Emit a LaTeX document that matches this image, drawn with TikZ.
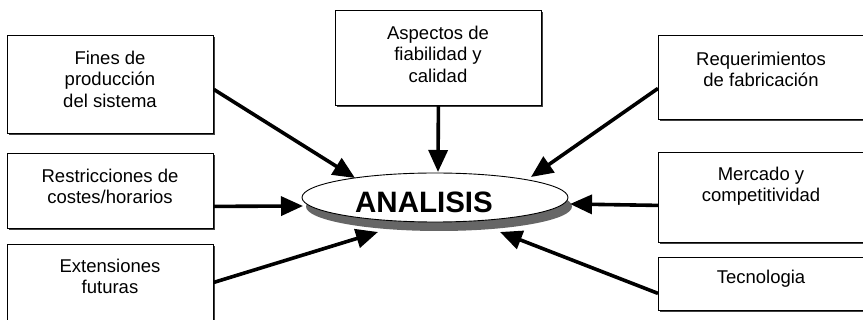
\documentclass[tikz,border=0pt]{standalone}
\usepackage{fontspec}
\setmainfont{Liberation Sans}
\usetikzlibrary{arrows.meta,shapes.geometric,shadows,calc}
\begin{document}
\begin{tikzpicture}[x=1pt,y=-1pt,
  boxnode/.style={draw, line width=0.8pt, fill=white, rectangle, inner sep=0pt,
    anchor=north west, minimum width=206pt,
    drop shadow={shadow xshift=1.4pt, shadow yshift=-1.6pt, fill=black!75, opacity=1}},
  txt/.style={font=\fontsize{18.5}{21.5}\selectfont, align=center, inner sep=0pt, anchor=north},
  arr/.style={line width=3.6pt, -{Triangle[length=22pt,width=19pt]}}]
\useasboundingbox (0,0) rectangle (863,320);

% boxes
\node[boxnode, minimum height=98pt] (L1) at (7,35) {};
\node[boxnode, minimum height=75pt] (L2) at (7,153) {};
\node[boxnode, minimum height=86pt] (L3) at (7,244) {};
\node[boxnode, minimum height=95pt] (C) at (335,10) {};
\node[boxnode, minimum height=84pt] (R1) at (658,35) {};
\node[boxnode, minimum height=90pt] (R2) at (658,152) {};
\node[boxnode, minimum height=53pt] (R3) at (658,257) {};

% texts
\node[txt] (L1t) at (110,50.5) {Fines de\\producción\\del sistema};
\node[txt] (L2t) at (110,168.5) {Restricciones de\\costes/horarios};
\node[txt] (L3t) at (110,258.5) {Extensiones\\futuras};
\node[txt] (Ct) at (438,25.5) {Aspectos de\\fiabilidad y\\calidad};
\node[txt] (R1t) at (761,51.5) {Requerimientos\\de fabricación};
\node[txt] (R2t) at (761,166.5) {Mercado y\\competitividad};
\node[txt] (R3t) at (761,269.5) {Tecnologia};

% central ellipse
\node[ellipse, draw, line width=0.9pt, fill=white, minimum width=266pt, minimum height=49pt,
  drop shadow={shadow xshift=4pt, shadow yshift=-9pt, fill=black!60, opacity=1}] (ANA) at (435,197.5) {};
\node[font=\bfseries\fontsize{29.5}{30}\selectfont, inner sep=0pt] (ANAt) at (424,202) {ANALISIS};

% arrow tip points on the ellipse
\coordinate (t1) at ($(ANA.center)+(-80,-19.5)$);
\coordinate (t2) at ($(ANA.center)+(-132,8.5)$);
\coordinate (t3) at ($(ANA.center)+(-57,34.5)$);
\coordinate (tc) at ($(ANA.center)+(3,-25.5)$);
\coordinate (t5) at ($(ANA.center)+(96,-20.5)$);
\coordinate (t6) at ($(ANA.center)+(135,6.5)$);
\coordinate (t7) at ($(ANA.center)+(65,34.5)$);

% arrows
\draw[arr] ($(L1.east)+(0,5)$) -- (t1);
\draw[arr] ($(L2.east)+(0,15.5)$) -- (t2);
\draw[arr] ($(L3.east)+(0,-5)$) -- (t3);
\draw[arr] (C.south) -- (tc);
\draw[arr] ($(R1.west)+(0,11)$) -- (t5);
\draw[arr] ($(R2.west)+(0,8)$) -- (t6);
\draw[arr] ($(R3.west)+(0,9.5)$) -- (t7);
\end{tikzpicture}
\end{document}
